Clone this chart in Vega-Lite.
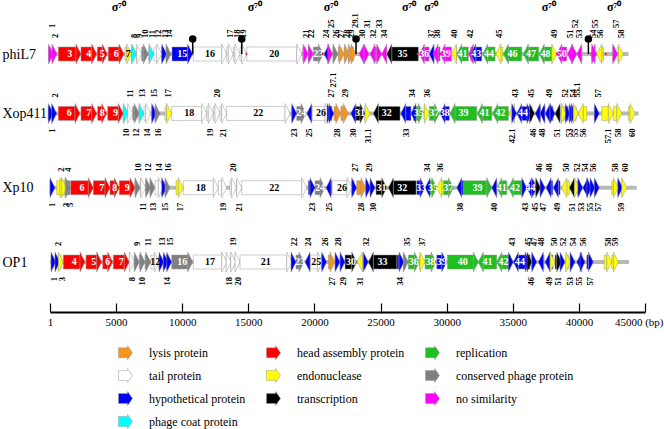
{
  "$schema": "https://vega.github.io/schema/vega-lite/v6.json",
  "width": 595,
  "height": 208,
  "autosize": "none",
  "padding": {"left": 50, "top": 54, "right": 19, "bottom": 167},
  "background": "white",
  "config": {
    "view": {"stroke": null},
    "font": "Liberation Serif",
    "axisX": {"grid": false, "domainColor": "black", "domainWidth": 2, "tickColor": "black", "tickWidth": 1.2, "labelFont": "Liberation Serif", "labelFontSize": 11, "labelColor": "black"}
  },
  "datasets": {
    "gen": [
      {"g": "phiL7", "s": 1, "len": 43751},
      {"g": "Xop411", "s": 1, "len": 44520},
      {"g": "Xp10", "s": 1, "len": 44373},
      {"g": "OP1", "s": 1, "len": 43785}
    ],
    "prom": [
      {"g": "phiL7", "x": 4592, "dir": "R"},
      {"g": "phiL7", "x": 14879, "dir": "R"},
      {"g": "phiL7", "x": 20628, "dir": "R"},
      {"g": "phiL7", "x": 27761, "dir": "L"},
      {"g": "phiL7", "x": 29448, "dir": "L"},
      {"g": "phiL7", "x": 38328, "dir": "L"},
      {"g": "phiL7", "x": 42057, "dir": "R"}
    ],
    "term": [
      {"g": "phiL7", "x": 10794},
      {"g": "phiL7", "x": 14501},
      {"g": "phiL7", "x": 23146},
      {"g": "phiL7", "x": 40718}
    ],
    "genes": [
      {"g": "phiL7", "n": "1", "s": 1, "e": 265, "d": "f", "c": "no similarity", "p": "up2"},
      {"g": "phiL7", "n": "2", "s": 265, "e": 530, "d": "f", "c": "no similarity", "p": "up"},
      {"g": "phiL7", "n": "3", "s": 628, "e": 2345, "d": "f", "c": "head assembly protein", "p": "in"},
      {"g": "phiL7", "n": "4", "s": 2345, "e": 3532, "d": "f", "c": "head assembly protein", "p": "in"},
      {"g": "phiL7", "n": "5", "s": 3578, "e": 4334, "d": "f", "c": "head assembly protein", "p": "in"},
      {"g": "phiL7", "n": "6", "s": 4410, "e": 5597, "d": "f", "c": "head assembly protein", "p": "in"},
      {"g": "phiL7", "n": "7", "s": 5673, "e": 6180, "d": "f", "c": "endonuclease", "p": "in"},
      {"g": "phiL7", "n": "8", "s": 6200, "e": 6558, "d": "f", "c": "phage coat protein", "p": "up"},
      {"g": "phiL7", "n": "9", "s": 6558, "e": 6936, "d": "f", "c": "tail protein", "p": "up"},
      {"g": "phiL7", "n": "10", "s": 6936, "e": 7436, "d": "f", "c": "conserved phage protein", "p": "up"},
      {"g": "phiL7", "n": "11", "s": 7488, "e": 7867, "d": "f", "c": "phage coat protein", "p": "up"},
      {"g": "phiL7", "n": "12", "s": 7867, "e": 8449, "d": "f", "c": "tail protein", "p": "up"},
      {"g": "phiL7", "n": "13", "s": 8525, "e": 8828, "d": "f", "c": "hypothetical protein", "p": "up"},
      {"g": "phiL7", "n": "14", "s": 8903, "e": 9152, "d": "f", "c": "conserved phage protein", "p": "up"},
      {"g": "phiL7", "n": "15", "s": 9228, "e": 10794, "d": "f", "c": "hypothetical protein", "p": "in"},
      {"g": "phiL7", "n": "16", "s": 10840, "e": 13366, "d": "f", "c": "tail protein", "p": "in"},
      {"g": "phiL7", "n": "17", "s": 13366, "e": 13865, "d": "f", "c": "tail protein", "p": "up"},
      {"g": "phiL7", "n": "18", "s": 13865, "e": 14372, "d": "f", "c": "tail protein", "p": "up"},
      {"g": "phiL7", "n": "19", "s": 14372, "e": 14879, "d": "f", "c": "tail protein", "p": "up"},
      {"g": "phiL7", "n": "20", "s": 14879, "e": 19039, "d": "f", "c": "tail protein", "p": "in"},
      {"g": "phiL7", "n": "21", "s": 19115, "e": 19538, "d": "f", "c": "no similarity", "p": "up"},
      {"g": "phiL7", "n": "22", "s": 19614, "e": 19916, "d": "f", "c": "no similarity", "p": "up"},
      {"g": "phiL7", "n": "23", "s": 19916, "e": 20672, "d": "f", "c": "conserved phage protein", "p": "in"},
      {"g": "phiL7", "n": "24", "s": 20725, "e": 21051, "d": "r", "c": "hypothetical protein", "p": "up"},
      {"g": "phiL7", "n": "25", "s": 21127, "e": 21384, "d": "f", "c": "no similarity", "p": "up2"},
      {"g": "phiL7", "n": "26", "s": 21480, "e": 21780, "d": "f", "c": "conserved phage protein", "p": "up"},
      {"g": "phiL7", "n": "27", "s": 21810, "e": 22240, "d": "f", "c": "lysis protein", "p": "up"},
      {"g": "phiL7", "n": "28", "s": 22240, "e": 22650, "d": "f", "c": "lysis protein", "p": "up"},
      {"g": "phiL7", "n": "29", "s": 22650, "e": 22950, "d": "f", "c": "lysis protein", "p": "up"},
      {"g": "phiL7", "n": "29.1", "s": 22950, "e": 23150, "d": "f", "c": "lysis protein", "p": "up2"},
      {"g": "phiL7", "n": "30", "s": 23373, "e": 23827, "d": "r", "c": "no similarity", "p": "up"},
      {"g": "phiL7", "n": "31", "s": 23827, "e": 24129, "d": "f", "c": "no similarity", "p": "up2"},
      {"g": "phiL7", "n": "32", "s": 24205, "e": 24712, "d": "r", "c": "no similarity", "p": "up"},
      {"g": "phiL7", "n": "33", "s": 24712, "e": 25090, "d": "f", "c": "no similarity", "p": "up2"},
      {"g": "phiL7", "n": "34", "s": 25090, "e": 25468, "d": "r", "c": "no similarity", "p": "up"},
      {"g": "phiL7", "n": "35", "s": 25468, "e": 27859, "d": "r", "c": "transcription", "p": "in"},
      {"g": "phiL7", "n": "36", "s": 27934, "e": 28668, "d": "r", "c": "no similarity", "p": "in"},
      {"g": "phiL7", "n": "37", "s": 28668, "e": 28971, "d": "r", "c": "hypothetical protein", "p": "up"},
      {"g": "phiL7", "n": "38", "s": 28971, "e": 29500, "d": "r", "c": "no similarity", "p": "up"},
      {"g": "phiL7", "n": "39", "s": 29500, "e": 30362, "d": "r", "c": "no similarity", "p": "in"},
      {"g": "phiL7", "n": "40", "s": 30362, "e": 30763, "d": "r", "c": "endonuclease", "p": "up"},
      {"g": "phiL7", "n": "41", "s": 30763, "e": 31640, "d": "r", "c": "replication", "p": "in"},
      {"g": "phiL7", "n": "42", "s": 31640, "e": 31822, "d": "r", "c": "no similarity", "p": "up"},
      {"g": "phiL7", "n": "43", "s": 31822, "e": 32654, "d": "r", "c": "hypothetical protein", "p": "in"},
      {"g": "phiL7", "n": "44", "s": 32729, "e": 33660, "d": "r", "c": "replication", "p": "in"},
      {"g": "phiL7", "n": "45", "s": 33720, "e": 34242, "d": "r", "c": "endonuclease", "p": "up"},
      {"g": "phiL7", "n": "46", "s": 34288, "e": 35680, "d": "r", "c": "replication", "p": "in"},
      {"g": "phiL7", "n": "47", "s": 35801, "e": 36960, "d": "r", "c": "replication", "p": "in"},
      {"g": "phiL7", "n": "48", "s": 37000, "e": 37948, "d": "r", "c": "replication", "p": "in"},
      {"g": "phiL7", "n": "49", "s": 37948, "e": 38327, "d": "f", "c": "endonuclease", "p": "up"},
      {"g": "phiL7", "n": "50", "s": 38327, "e": 39083, "d": "r", "c": "no similarity", "p": "in"},
      {"g": "phiL7", "n": "51", "s": 39129, "e": 39583, "d": "r", "c": "no similarity", "p": "up"},
      {"g": "phiL7", "n": "52", "s": 39583, "e": 39840, "d": "f", "c": "no similarity", "p": "up2"},
      {"g": "phiL7", "n": "53", "s": 39840, "e": 40219, "d": "r", "c": "no similarity", "p": "up"},
      {"g": "phiL7", "n": "54", "s": 40846, "e": 41224, "d": "r", "c": "no similarity", "p": "up"},
      {"g": "phiL7", "n": "55", "s": 41150, "e": 41353, "d": "f", "c": "no similarity", "p": "up2"},
      {"g": "phiL7", "n": "56", "s": 41353, "e": 41852, "d": "r", "c": "endonuclease", "p": "up"},
      {"g": "phiL7", "n": "57", "s": 42684, "e": 42941, "d": "f", "c": "no similarity", "p": "up2"},
      {"g": "phiL7", "n": "58", "s": 42941, "e": 43365, "d": "f", "c": "endonuclease", "p": "up"},

      {"g": "Xop411", "n": "1", "s": 1, "e": 250, "d": "f", "c": "hypothetical protein", "p": "dn"},
      {"g": "Xop411", "n": "2", "s": 250, "e": 507, "d": "f", "c": "hypothetical protein", "p": "up"},
      {"g": "Xop411", "n": "6", "s": 628, "e": 2269, "d": "f", "c": "head assembly protein", "p": "in"},
      {"g": "Xop411", "n": "7", "s": 2345, "e": 3532, "d": "f", "c": "head assembly protein", "p": "in"},
      {"g": "Xop411", "n": "8", "s": 3608, "e": 4289, "d": "f", "c": "head assembly protein", "p": "in"},
      {"g": "Xop411", "n": "9", "s": 4364, "e": 5544, "d": "f", "c": "head assembly protein", "p": "in"},
      {"g": "Xop411", "n": "10", "s": 5544, "e": 5923, "d": "f", "c": "phage coat protein", "p": "dn"},
      {"g": "Xop411", "n": "11", "s": 5923, "e": 6255, "d": "f", "c": "tail protein", "p": "up"},
      {"g": "Xop411", "n": "12", "s": 6255, "e": 6755, "d": "f", "c": "conserved phage protein", "p": "dn"},
      {"g": "Xop411", "n": "13", "s": 6755, "e": 7110, "d": "f", "c": "phage coat protein", "p": "up"},
      {"g": "Xop411", "n": "14", "s": 7110, "e": 7617, "d": "f", "c": "tail protein", "p": "dn"},
      {"g": "Xop411", "n": "15", "s": 7693, "e": 8071, "d": "f", "c": "hypothetical protein", "p": "up"},
      {"g": "Xop411", "n": "16", "s": 8071, "e": 8320, "d": "f", "c": "conserved phage protein", "p": "dn"},
      {"g": "Xop411", "n": "17", "s": 8699, "e": 9205, "d": "f", "c": "endonuclease", "p": "up"},
      {"g": "Xop411", "n": "18", "s": 9205, "e": 11853, "d": "f", "c": "tail protein", "p": "in"},
      {"g": "Xop411", "n": "19", "s": 11853, "e": 12350, "d": "f", "c": "tail protein", "p": "dn"},
      {"g": "Xop411", "n": "20", "s": 12350, "e": 12860, "d": "f", "c": "tail protein", "p": "up"},
      {"g": "Xop411", "n": "21", "s": 12860, "e": 13366, "d": "f", "c": "tail protein", "p": "dn"},
      {"g": "Xop411", "n": "22", "s": 13366, "e": 18154, "d": "f", "c": "tail protein", "p": "in"},
      {"g": "Xop411", "n": "23", "s": 18282, "e": 18660, "d": "f", "c": "hypothetical protein", "p": "dn"},
      {"g": "Xop411", "n": "24", "s": 18660, "e": 19364, "d": "f", "c": "conserved phage protein", "p": "in"},
      {"g": "Xop411", "n": "25", "s": 19417, "e": 19795, "d": "r", "c": "hypothetical protein", "p": "dn"},
      {"g": "Xop411", "n": "26", "s": 19795, "e": 21179, "d": "f", "c": "tail protein", "p": "in"},
      {"g": "Xop411", "n": "27", "s": 21200, "e": 21330, "d": "f", "c": "hypothetical protein", "p": "up"},
      {"g": "Xop411", "n": "27.1", "s": 21330, "e": 21480, "d": "f", "c": "hypothetical protein", "p": "up2"},
      {"g": "Xop411", "n": "28", "s": 21480, "e": 22000, "d": "f", "c": "lysis protein", "p": "dn"},
      {"g": "Xop411", "n": "29", "s": 22000, "e": 22564, "d": "f", "c": "lysis protein", "p": "up"},
      {"g": "Xop411", "n": "30", "s": 22745, "e": 23070, "d": "r", "c": "hypothetical protein", "p": "dn"},
      {"g": "Xop411", "n": "31", "s": 23070, "e": 23827, "d": "f", "c": "transcription", "p": "in"},
      {"g": "Xop411", "n": "31.1", "s": 23827, "e": 24205, "d": "f", "c": "endonuclease", "p": "dn"},
      {"g": "Xop411", "n": "32", "s": 24455, "e": 26474, "d": "r", "c": "transcription", "p": "in"},
      {"g": "Xop411", "n": "33", "s": 26527, "e": 27300, "d": "r", "c": "hypothetical protein", "p": "dn"},
      {"g": "Xop411", "n": "34", "s": 27300, "e": 27481, "d": "r", "c": "hypothetical protein", "p": "up"},
      {"g": "Xop411", "n": "35", "s": 27534, "e": 28237, "d": "f", "c": "replication", "p": "in"},
      {"g": "Xop411", "n": "36", "s": 28289, "e": 28691, "d": "f", "c": "endonuclease", "p": "up"},
      {"g": "Xop411", "n": "37", "s": 28691, "e": 29448, "d": "f", "c": "replication", "p": "in"},
      {"g": "Xop411", "n": "38", "s": 29500, "e": 30203, "d": "r", "c": "hypothetical protein", "p": "in"},
      {"g": "Xop411", "n": "39", "s": 30256, "e": 32275, "d": "r", "c": "replication", "p": "in"},
      {"g": "Xop411", "n": "41", "s": 32321, "e": 33410, "d": "r", "c": "replication", "p": "in"},
      {"g": "Xop411", "n": "42", "s": 33485, "e": 34666, "d": "r", "c": "replication", "p": "in"},
      {"g": "Xop411", "n": "42.1", "s": 34742, "e": 35100, "d": "r", "c": "endonuclease", "p": "dn"},
      {"g": "Xop411", "n": "43", "s": 35100, "e": 35300, "d": "f", "c": "hypothetical protein", "p": "up"},
      {"g": "Xop411", "n": "44", "s": 35300, "e": 36250, "d": "r", "c": "hypothetical protein", "p": "in"},
      {"g": "Xop411", "n": "45", "s": 36250, "e": 36450, "d": "f", "c": "hypothetical protein", "p": "up"},
      {"g": "Xop411", "n": "46", "s": 36450, "e": 36650, "d": "f", "c": "transcription", "p": "dn"},
      {"g": "Xop411", "n": "47", "s": 36700, "e": 37050, "d": "r", "c": "hypothetical protein", "p": "x"},
      {"g": "Xop411", "n": "48", "s": 37050, "e": 37300, "d": "r", "c": "hypothetical protein", "p": "dn"},
      {"g": "Xop411", "n": "49", "s": 37450, "e": 38000, "d": "r", "c": "hypothetical protein", "p": "up"},
      {"g": "Xop411", "n": "50", "s": 38050, "e": 38200, "d": "f", "c": "hypothetical protein", "p": "x"},
      {"g": "Xop411", "n": "51", "s": 38200, "e": 38550, "d": "r", "c": "transcription", "p": "dn"},
      {"g": "Xop411", "n": "52", "s": 38900, "e": 39050, "d": "f", "c": "endonuclease", "p": "up"},
      {"g": "Xop411", "n": "53", "s": 39200, "e": 39350, "d": "f", "c": "hypothetical protein", "p": "dn"},
      {"g": "Xop411", "n": "54", "s": 39400, "e": 39650, "d": "f", "c": "hypothetical protein", "p": "up"},
      {"g": "Xop411", "n": "55", "s": 39650, "e": 39800, "d": "f", "c": "hypothetical protein", "p": "dn"},
      {"g": "Xop411", "n": "55.1", "s": 39800, "e": 39950, "d": "f", "c": "endonuclease", "p": "up"},
      {"g": "Xop411", "n": "56", "s": 39950, "e": 40600, "d": "r", "c": "endonuclease", "p": "dn"},
      {"g": "Xop411", "n": "57", "s": 41300, "e": 41550, "d": "f", "c": "hypothetical protein", "p": "up"},
      {"g": "Xop411", "n": "57.1", "s": 41731, "e": 42608, "d": "f", "c": "endonuclease", "p": "dn"},
      {"g": "Xop411", "n": "58", "s": 42608, "e": 43243, "d": "f", "c": "endonuclease", "p": "dn"},
      {"g": "Xop411", "n": "60", "s": 43743, "e": 44249, "d": "f", "c": "endonuclease", "p": "dn"},

      {"g": "Xp10", "n": "1", "s": 1, "e": 378, "d": "f", "c": "hypothetical protein", "p": "dn"},
      {"g": "Xp10", "n": "2", "s": 507, "e": 1135, "d": "f", "c": "endonuclease", "p": "up"},
      {"g": "Xp10", "n": "3", "s": 1135, "e": 1263, "d": "f", "c": "endonuclease", "p": "dn"},
      {"g": "Xp10", "n": "4", "s": 1263, "e": 1513, "d": "f", "c": "lysis protein", "p": "up"},
      {"g": "Xp10", "n": "5", "s": 1513, "e": 1566, "d": "f", "c": "conserved phage protein", "p": "dn"},
      {"g": "Xp10", "n": "6", "s": 1566, "e": 3275, "d": "f", "c": "head assembly protein", "p": "in"},
      {"g": "Xp10", "n": "7", "s": 3275, "e": 4538, "d": "f", "c": "head assembly protein", "p": "in"},
      {"g": "Xp10", "n": "8", "s": 4538, "e": 5242, "d": "f", "c": "head assembly protein", "p": "in"},
      {"g": "Xp10", "n": "9", "s": 5242, "e": 6429, "d": "f", "c": "head assembly protein", "p": "in"},
      {"g": "Xp10", "n": "10", "s": 6429, "e": 6808, "d": "f", "c": "conserved phage protein", "p": "up"},
      {"g": "Xp10", "n": "11", "s": 6808, "e": 7239, "d": "f", "c": "tail protein", "p": "dn"},
      {"g": "Xp10", "n": "12", "s": 7239, "e": 7617, "d": "f", "c": "conserved phage protein", "p": "up"},
      {"g": "Xp10", "n": "13", "s": 7617, "e": 7942, "d": "f", "c": "conserved phage protein", "p": "dn"},
      {"g": "Xp10", "n": "14", "s": 7942, "e": 8570, "d": "f", "c": "tail protein", "p": "up"},
      {"g": "Xp10", "n": "15", "s": 8570, "e": 8827, "d": "f", "c": "hypothetical protein", "p": "dn"},
      {"g": "Xp10", "n": "16", "s": 8827, "e": 9077, "d": "f", "c": "conserved phage protein", "p": "up"},
      {"g": "Xp10", "n": "17", "s": 9531, "e": 10083, "d": "f", "c": "endonuclease", "p": "dn"},
      {"g": "Xp10", "n": "18", "s": 10083, "e": 12730, "d": "f", "c": "tail protein", "p": "in"},
      {"g": "Xp10", "n": "19", "s": 12730, "e": 13366, "d": "f", "c": "tail protein", "p": "dn"},
      {"g": "Xp10", "n": "20", "s": 13615, "e": 14100, "d": "f", "c": "tail protein", "p": "up"},
      {"g": "Xp10", "n": "21", "s": 14100, "e": 14501, "d": "f", "c": "tail protein", "p": "dn"},
      {"g": "Xp10", "n": "22", "s": 14501, "e": 19417, "d": "f", "c": "tail protein", "p": "in"},
      {"g": "Xp10", "n": "23", "s": 19538, "e": 20045, "d": "f", "c": "hypothetical protein", "p": "dn"},
      {"g": "Xp10", "n": "24", "s": 20045, "e": 20801, "d": "f", "c": "conserved phage protein", "p": "in"},
      {"g": "Xp10", "n": "25", "s": 20877, "e": 21308, "d": "r", "c": "hypothetical protein", "p": "dn"},
      {"g": "Xp10", "n": "26", "s": 21330, "e": 22843, "d": "f", "c": "tail protein", "p": "in"},
      {"g": "Xp10", "n": "27", "s": 22995, "e": 23199, "d": "f", "c": "hypothetical protein", "p": "up"},
      {"g": "Xp10", "n": "28", "s": 23199, "e": 23902, "d": "f", "c": "lysis protein", "p": "dn"},
      {"g": "Xp10", "n": "29", "s": 24001, "e": 24258, "d": "f", "c": "hypothetical protein", "p": "up"},
      {"g": "Xp10", "n": "30", "s": 24258, "e": 24583, "d": "f", "c": "hypothetical protein", "p": "dn"},
      {"g": "Xp10", "n": "31", "s": 24659, "e": 25468, "d": "f", "c": "transcription", "p": "in"},
      {"g": "Xp10", "n": "32", "s": 25590, "e": 27685, "d": "r", "c": "transcription", "p": "in"},
      {"g": "Xp10", "n": "33", "s": 27738, "e": 28365, "d": "f", "c": "hypothetical protein", "p": "in"},
      {"g": "Xp10", "n": "34", "s": 28365, "e": 28691, "d": "r", "c": "hypothetical protein", "p": "up"},
      {"g": "Xp10", "n": "35", "s": 28691, "e": 29251, "d": "f", "c": "replication", "p": "in"},
      {"g": "Xp10", "n": "36", "s": 29251, "e": 29749, "d": "r", "c": "endonuclease", "p": "up"},
      {"g": "Xp10", "n": "37", "s": 29749, "e": 30506, "d": "f", "c": "replication", "p": "in"},
      {"g": "Xp10", "n": "38", "s": 30763, "e": 31262, "d": "r", "c": "hypothetical protein", "p": "dn"},
      {"g": "Xp10", "n": "39", "s": 31262, "e": 33410, "d": "f", "c": "replication", "p": "in"},
      {"g": "Xp10", "n": "40", "s": 33410, "e": 33788, "d": "r", "c": "hypothetical protein", "p": "dn"},
      {"g": "Xp10", "n": "41", "s": 33788, "e": 34545, "d": "r", "c": "replication", "p": "in"},
      {"g": "Xp10", "n": "42", "s": 34666, "e": 35680, "d": "r", "c": "replication", "p": "in"},
      {"g": "Xp10", "n": "43", "s": 35801, "e": 36058, "d": "f", "c": "hypothetical protein", "p": "dn"},
      {"g": "Xp10", "n": "44", "s": 36058, "e": 36610, "d": "r", "c": "hypothetical protein", "p": "in"},
      {"g": "Xp10", "n": "45", "s": 36610, "e": 36814, "d": "f", "c": "hypothetical protein", "p": "dn"},
      {"g": "Xp10", "n": "46", "s": 36814, "e": 37117, "d": "f", "c": "transcription", "p": "up"},
      {"g": "Xp10", "n": "47", "s": 37117, "e": 37442, "d": "f", "c": "hypothetical protein", "p": "dn"},
      {"g": "Xp10", "n": "48", "s": 37517, "e": 38024, "d": "r", "c": "hypothetical protein", "p": "up"},
      {"g": "Xp10", "n": "49", "s": 38070, "e": 38576, "d": "r", "c": "hypothetical protein", "p": "dn"},
      {"g": "Xp10", "n": "50", "s": 38705, "e": 39280, "d": "r", "c": "endonuclease", "p": "up"},
      {"g": "Xp10", "n": "51", "s": 39280, "e": 39711, "d": "r", "c": "transcription", "p": "dn"},
      {"g": "Xp10", "n": "52", "s": 39711, "e": 40037, "d": "f", "c": "endonuclease", "p": "up"},
      {"g": "Xp10", "n": "53", "s": 40037, "e": 40295, "d": "f", "c": "hypothetical protein", "p": "dn"},
      {"g": "Xp10", "n": "54", "s": 40295, "e": 40642, "d": "r", "c": "hypothetical protein", "p": "up"},
      {"g": "Xp10", "n": "55", "s": 40642, "e": 40975, "d": "f", "c": "hypothetical protein", "p": "dn"},
      {"g": "Xp10", "n": "56", "s": 40975, "e": 41224, "d": "f", "c": "hypothetical protein", "p": "up"},
      {"g": "Xp10", "n": "57", "s": 41300, "e": 41549, "d": "f", "c": "hypothetical protein", "p": "dn"},
      {"g": "Xp10", "n": "58", "s": 42487, "e": 42987, "d": "f", "c": "endonuclease", "p": "up"},
      {"g": "Xp10", "n": "59", "s": 42987, "e": 43319, "d": "f", "c": "hypothetical protein", "p": "dn"},
      {"g": "Xp10", "n": "60", "s": 43319, "e": 43622, "d": "f", "c": "endonuclease", "p": "up"},

      {"g": "OP1", "n": "1", "s": 130, "e": 454, "d": "f", "c": "hypothetical protein", "p": "dn"},
      {"g": "OP1", "n": "2", "s": 454, "e": 756, "d": "f", "c": "hypothetical protein", "p": "up"},
      {"g": "OP1", "n": "3", "s": 832, "e": 1006, "d": "f", "c": "endonuclease", "p": "dn"},
      {"g": "OP1", "n": "4", "s": 1006, "e": 2647, "d": "f", "c": "head assembly protein", "p": "in"},
      {"g": "OP1", "n": "5", "s": 2723, "e": 3911, "d": "f", "c": "head assembly protein", "p": "in"},
      {"g": "OP1", "n": "6", "s": 3986, "e": 4743, "d": "f", "c": "head assembly protein", "p": "in"},
      {"g": "OP1", "n": "7", "s": 4788, "e": 5998, "d": "f", "c": "head assembly protein", "p": "in"},
      {"g": "OP1", "n": "8", "s": 6051, "e": 6377, "d": "f", "c": "tail protein", "p": "dn"},
      {"g": "OP1", "n": "9", "s": 6429, "e": 6755, "d": "f", "c": "conserved phage protein", "p": "up"},
      {"g": "OP1", "n": "10", "s": 6755, "e": 7186, "d": "f", "c": "conserved phage protein", "p": "dn"},
      {"g": "OP1", "n": "11", "s": 7186, "e": 7617, "d": "f", "c": "conserved phage protein", "p": "up"},
      {"g": "OP1", "n": "12", "s": 7640, "e": 8268, "d": "f", "c": "tail protein", "p": "in"},
      {"g": "OP1", "n": "13", "s": 8268, "e": 8623, "d": "f", "c": "hypothetical protein", "p": "up"},
      {"g": "OP1", "n": "14", "s": 8699, "e": 8948, "d": "f", "c": "hypothetical protein", "p": "dn"},
      {"g": "OP1", "n": "15", "s": 8948, "e": 9205, "d": "f", "c": "hypothetical protein", "p": "up"},
      {"g": "OP1", "n": "16", "s": 9205, "e": 10794, "d": "f", "c": "conserved phage protein", "p": "in"},
      {"g": "OP1", "n": "17", "s": 10840, "e": 13366, "d": "f", "c": "tail protein", "p": "in"},
      {"g": "OP1", "n": "18", "s": 13366, "e": 13700, "d": "f", "c": "tail protein", "p": "dn"},
      {"g": "OP1", "n": "19", "s": 13700, "e": 14050, "d": "f", "c": "tail protein", "p": "up"},
      {"g": "OP1", "n": "20", "s": 14050, "e": 14372, "d": "f", "c": "tail protein", "p": "dn"},
      {"g": "OP1", "n": "21", "s": 14372, "e": 18282, "d": "f", "c": "tail protein", "p": "in"},
      {"g": "OP1", "n": "22", "s": 18358, "e": 18607, "d": "f", "c": "hypothetical protein", "p": "up"},
      {"g": "OP1", "n": "23", "s": 18607, "e": 19213, "d": "f", "c": "conserved phage protein", "p": "in"},
      {"g": "OP1", "n": "24", "s": 19288, "e": 19666, "d": "r", "c": "hypothetical protein", "p": "up"},
      {"g": "OP1", "n": "25", "s": 19666, "e": 20627, "d": "f", "c": "tail protein", "p": "in"},
      {"g": "OP1", "n": "26", "s": 20673, "e": 20925, "d": "f", "c": "hypothetical protein", "p": "up"},
      {"g": "OP1", "n": "27", "s": 21051, "e": 21557, "d": "f", "c": "lysis protein", "p": "dn"},
      {"g": "OP1", "n": "28", "s": 21557, "e": 21936, "d": "f", "c": "hypothetical protein", "p": "up"},
      {"g": "OP1", "n": "29", "s": 21936, "e": 22314, "d": "f", "c": "hypothetical protein", "p": "dn"},
      {"g": "OP1", "n": "30", "s": 22314, "e": 23199, "d": "f", "c": "transcription", "p": "in"},
      {"g": "OP1", "n": "31", "s": 23250, "e": 23698, "d": "r", "c": "endonuclease", "p": "dn"},
      {"g": "OP1", "n": "32", "s": 23698, "e": 24077, "d": "f", "c": "hypothetical protein", "p": "up"},
      {"g": "OP1", "n": "33", "s": 24077, "e": 26225, "d": "r", "c": "transcription", "p": "in"},
      {"g": "OP1", "n": "34", "s": 26225, "e": 26777, "d": "f", "c": "hypothetical protein", "p": "dn"},
      {"g": "OP1", "n": "35", "s": 26852, "e": 27102, "d": "f", "c": "conserved phage protein", "p": "up"},
      {"g": "OP1", "n": "36", "s": 27102, "e": 27934, "d": "f", "c": "replication", "p": "in"},
      {"g": "OP1", "n": "37", "s": 27934, "e": 28365, "d": "f", "c": "endonuclease", "p": "up"},
      {"g": "OP1", "n": "38", "s": 28365, "e": 29198, "d": "f", "c": "replication", "p": "in"},
      {"g": "OP1", "n": "39", "s": 29251, "e": 30006, "d": "f", "c": "hypothetical protein", "p": "in"},
      {"g": "OP1", "n": "40", "s": 30052, "e": 32396, "d": "f", "c": "replication", "p": "in"},
      {"g": "OP1", "n": "41", "s": 32396, "e": 33788, "d": "r", "c": "replication", "p": "in"},
      {"g": "OP1", "n": "42", "s": 33788, "e": 34794, "d": "r", "c": "replication", "p": "in"},
      {"g": "OP1", "n": "43", "s": 34794, "e": 35044, "d": "f", "c": "hypothetical protein", "p": "up"},
      {"g": "OP1", "n": "44", "s": 35044, "e": 36058, "d": "r", "c": "hypothetical protein", "p": "in"},
      {"g": "OP1", "n": "45", "s": 36058, "e": 36307, "d": "f", "c": "hypothetical protein", "p": "up"},
      {"g": "OP1", "n": "46", "s": 36307, "e": 36459, "d": "f", "c": "transcription", "p": "dn"},
      {"g": "OP1", "n": "47", "s": 36459, "e": 36814, "d": "f", "c": "hypothetical protein", "p": "up"},
      {"g": "OP1", "n": "48", "s": 36935, "e": 37366, "d": "r", "c": "hypothetical protein", "p": "up"},
      {"g": "OP1", "n": "49", "s": 37442, "e": 38024, "d": "r", "c": "hypothetical protein", "p": "dn"},
      {"g": "OP1", "n": "50", "s": 38024, "e": 38198, "d": "f", "c": "endonuclease", "p": "up"},
      {"g": "OP1", "n": "51", "s": 38198, "e": 38705, "d": "f", "c": "transcription", "p": "dn"},
      {"g": "OP1", "n": "52", "s": 38705, "e": 38955, "d": "f", "c": "hypothetical protein", "p": "up"},
      {"g": "OP1", "n": "53", "s": 39200, "e": 39386, "d": "f", "c": "endonuclease", "p": "dn"},
      {"g": "OP1", "n": "54", "s": 39386, "e": 39711, "d": "f", "c": "hypothetical protein", "p": "up"},
      {"g": "OP1", "n": "55", "s": 39840, "e": 40219, "d": "r", "c": "hypothetical protein", "p": "dn"},
      {"g": "OP1", "n": "56", "s": 40219, "e": 40467, "d": "f", "c": "hypothetical protein", "p": "up"},
      {"g": "OP1", "n": "57", "s": 40596, "e": 41096, "d": "f", "c": "hypothetical protein", "p": "dn"},
      {"g": "OP1", "n": "58", "s": 41905, "e": 42487, "d": "f", "c": "endonuclease", "p": "up"},
      {"g": "OP1", "n": "59", "s": 42487, "e": 42987, "d": "f", "c": "endonuclease", "p": "up"}
    ]
  },
  "encoding": {
    "y": {
      "field": "g",
      "type": "nominal",
      "scale": {"type": "point", "padding": 0, "domain": ["phiL7", "a1", "a2", "a3", "Xop411", "b1", "b2", "b3", "b4", "Xp10", "c1", "c2", "c3", "c4", "OP1"]},
      "axis": {"values": ["phiL7", "Xop411", "Xp10", "OP1"], "title": null, "domain": false, "ticks": false, "labelAlign": "left", "labelBaseline": "middle", "labelPadding": 48, "labelFontSize": 14, "labelFont": "Liberation Serif", "labelColor": "black"}
    }
  },
  "layer": [
    {
      "data": {"name": "gen"},
      "mark": {"type": "rule", "strokeWidth": 4, "color": "#b8b8b8"},
      "encoding": {
        "x": {
          "field": "s", "type": "quantitative", "title": null,
          "scale": {"domain": [1, 45000], "nice": false, "zero": false},
          "axis": {
            "values": [1, 2500, 5000, 7500, 10000, 12500, 15000, 17500, 20000, 22500, 25000, 27500, 30000, 32500, 35000, 37500, 40000, 42500, 45000],
            "offset": 50,
            "format": "d",
            "labelExpr": "datum.value == 45000 ? '45000 (bp)' : ((datum.value % 5000 == 0 || datum.value == 1) ? datum.value + '' : '')",
            "tickSize": {"condition": {"test": "datum.value % 5000 == 0 || datum.value == 1", "value": -9}, "value": -5},
            "labelAlign": {"condition": {"test": "datum.value == 45000", "value": "right"}, "value": "center"},
            "labelOffset": {"condition": {"test": "datum.value == 45000", "value": 18}, "value": 0},
            "labelPadding": 13,
            "labelFlush": false,
            "labelOverlap": false
          }
        },
        "x2": {"field": "len"}
      }
    },
    {
      "data": {"name": "genes"},
      "transform": [{"filter": "datum.d == 'f'"}],
      "mark": {"type": "bar", "size": 14, "x2Offset": -5, "stroke": "#999999", "strokeWidth": 0.5},
      "encoding": {
        "x": {"field": "s", "type": "quantitative", "title": null},
        "x2": {"field": "e"},
        "fill": {
          "field": "c", "type": "nominal",
          "scale": {
            "domain": ["lysis protein", "head assembly protein", "replication", "tail protein", "endonuclease", "conserved phage protein", "hypothetical protein", "transcription", "no similarity", "phage coat protein"],
            "range": ["#f7941d", "#ff0000", "#1fbf1f", "#ffffff", "#ffff00", "#808080", "#0000f0", "#000000", "#ff00ff", "#00ffff"]
          },
          "legend": {
            "orient": "none", "legendX": 68, "legendY": 291, "columns": 3, "direction": "horizontal", "title": null,
            "values": ["lysis protein", "head assembly protein", "replication", "tail protein", "endonuclease", "conserved phage protein", "hypothetical protein", "transcription", "no similarity", "phage coat protein"],
            "symbolType": "M-1,-0.7L0.3,-0.7L0.3,-1L1,0L0.3,1L0.3,0.7L-1,0.7Z",
            "symbolSize": 196, "symbolStrokeColor": "#999999", "symbolStrokeWidth": 0.5,
            "labelFont": "Liberation Serif", "labelFontSize": 12, "labelColor": "black", "labelOffset": 16,
            "rowPadding": 6, "columnPadding": 19, "labelLimit": 300
          }
        }
      }
    },
    {
      "data": {"name": "genes"},
      "transform": [{"filter": "datum.d == 'r'"}],
      "mark": {"type": "bar", "size": 14, "xOffset": 5, "stroke": "#999999", "strokeWidth": 0.5},
      "encoding": {
        "x": {"field": "s", "type": "quantitative", "title": null},
        "x2": {"field": "e"},
        "fill": {"field": "c", "type": "nominal"}
      }
    },
    {
      "data": {"name": "genes"},
      "transform": [
        {"fold": ["s", "e"], "as": ["k", "v"]},
        {"filter": "(datum.d == 'f' && datum.k == 'e') || (datum.d == 'r' && datum.k == 's')"}
      ],
      "mark": {"type": "point", "filled": true, "opacity": 1, "size": 400, "stroke": "#999999", "strokeWidth": 0.5},
      "encoding": {
        "x": {"field": "v", "type": "quantitative", "title": null},
        "shape": {"field": "d", "type": "nominal", "scale": {"domain": ["f", "r"], "range": ["M0,0L-0.5,-1L-0.5,1Z", "M0,0L0.5,-1L0.5,1Z"]}, "legend": null},
        "fill": {"field": "c", "type": "nominal"}
      }
    },
    {
      "data": {"name": "genes"},
      "transform": [
        {"filter": "datum.p == 'in'"},
        {"fold": ["s", "e"], "as": ["k", "v"]},
        {"aggregate": [{"op": "mean", "field": "v", "as": "m"}], "groupby": ["g", "n", "c"]}
      ],
      "mark": {"type": "text", "fontWeight": "bold", "fontSize": 10, "font": "Liberation Serif", "baseline": "middle"},
      "encoding": {
        "x": {"field": "m", "type": "quantitative", "title": null},
        "text": {"field": "n"},
        "color": {"condition": {"test": "datum.c == 'tail protein' || datum.c == 'endonuclease'", "value": "black"}, "value": "white"}
      }
    },
    {
      "data": {"name": "genes"},
      "transform": [
        {"filter": "datum.p == 'up'"},
        {"fold": ["s", "e"], "as": ["k", "v"]},
        {"aggregate": [{"op": "mean", "field": "v", "as": "m"}], "groupby": ["g", "n"]}
      ],
      "mark": {"type": "text", "fontWeight": "bold", "fontSize": 8.5, "font": "Liberation Serif", "angle": 270, "align": "left", "baseline": "middle", "dx": 16, "color": "black"},
      "encoding": {"x": {"field": "m", "type": "quantitative", "title": null}, "text": {"field": "n"}}
    },
    {
      "data": {"name": "genes"},
      "transform": [
        {"filter": "datum.p == 'up2'"},
        {"fold": ["s", "e"], "as": ["k", "v"]},
        {"aggregate": [{"op": "mean", "field": "v", "as": "m"}], "groupby": ["g", "n"]}
      ],
      "mark": {"type": "text", "fontWeight": "bold", "fontSize": 8.5, "font": "Liberation Serif", "angle": 270, "align": "left", "baseline": "middle", "dx": 26, "color": "black"},
      "encoding": {"x": {"field": "m", "type": "quantitative", "title": null}, "text": {"field": "n"}}
    },
    {
      "data": {"name": "genes"},
      "transform": [
        {"filter": "datum.p == 'dn'"},
        {"fold": ["s", "e"], "as": ["k", "v"]},
        {"aggregate": [{"op": "mean", "field": "v", "as": "m"}], "groupby": ["g", "n"]}
      ],
      "mark": {"type": "text", "fontWeight": "bold", "fontSize": 8.5, "font": "Liberation Serif", "angle": 270, "align": "right", "baseline": "middle", "dx": -15, "color": "black"},
      "encoding": {"x": {"field": "m", "type": "quantitative", "title": null}, "text": {"field": "n"}}
    },
    {
      "data": {"name": "prom"},
      "mark": {"type": "point", "filled": false, "size": 4, "stroke": "#e8201a", "strokeWidth": 1.3, "opacity": 1},
      "encoding": {
        "x": {"field": "x", "type": "quantitative", "title": null},
        "shape": {"field": "dir", "type": "nominal", "scale": {"domain": ["R", "L"], "range": ["M0,-27L0,-41L14,-41M10,-44L14,-41L10,-38", "M0,-27L0,-41L-14,-41M-10,-44L-14,-41L-10,-38"]}, "legend": null}
      }
    },
    {
      "data": {"name": "prom"},
      "transform": [{"filter": "datum.dir == 'R'"}],
      "mark": {"type": "text", "text": "σ⁷⁰", "align": "left", "baseline": "alphabetic", "dx": 1, "dy": -43, "fontSize": 12, "fontWeight": "bold", "font": "Liberation Serif", "color": "black"},
      "encoding": {"x": {"field": "x", "type": "quantitative", "title": null}}
    },
    {
      "data": {"name": "prom"},
      "transform": [{"filter": "datum.dir == 'L'"}],
      "mark": {"type": "text", "text": "σ⁷⁰", "align": "right", "baseline": "alphabetic", "dx": -1, "dy": -43, "fontSize": 12, "fontWeight": "bold", "font": "Liberation Serif", "color": "black"},
      "encoding": {"x": {"field": "x", "type": "quantitative", "title": null}}
    },
    {
      "data": {"name": "term"},
      "mark": {"type": "point", "filled": true, "size": 4, "color": "black", "stroke": "black", "strokeWidth": 1.5, "opacity": 1, "shape": "M0,0L0,-12M-3,-15a3,3 0 1,0 6,0a3,3 0 1,0 -6,0Z"},
      "encoding": {"x": {"field": "x", "type": "quantitative", "title": null}}
    }
  ]
}
